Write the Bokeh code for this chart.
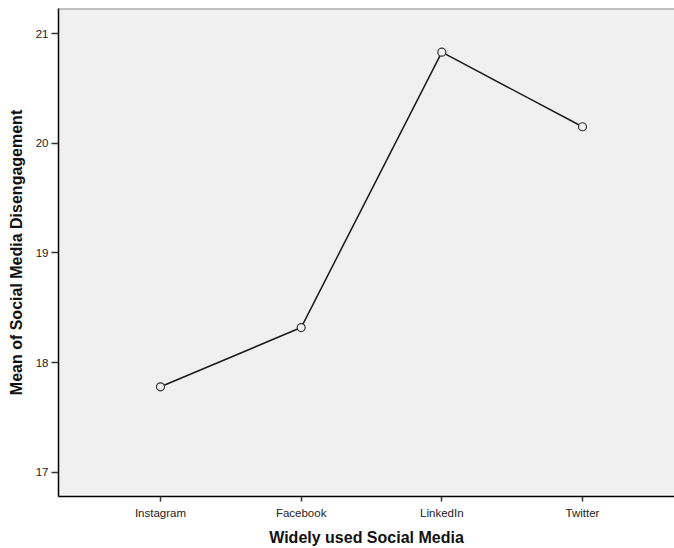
from bokeh.plotting import figure
from bokeh.models import FixedTicker, Range1d, ColumnDataSource, Span
from bokeh.embed import file_html
from bokeh.resources import INLINE

platforms = ["Instagram", "Facebook", "LinkedIn", "Twitter"]
means = [17.78, 18.32, 20.83, 20.15]
y_ticks = [17, 18, 19, 20, 21]

xs = list(range(1, len(platforms) + 1))
src = ColumnDataSource(dict(x=xs, y=means))

y_top = 21.228
p = figure(width=674, height=548, output_backend="svg", toolbar_location=None,
           x_range=Range1d(0.275, 4.654), y_range=Range1d(16.78, y_top),
           min_border_left=58, min_border_right=0, min_border_top=8, min_border_bottom=52)

p.background_fill_color = "#F0F0F0"
p.border_fill_color = "white"
p.outline_line_color = None
p.xgrid.visible = False
p.ygrid.visible = False

p.add_layout(Span(location=y_top, dimension="width", line_color="#888888", line_width=2))

p.line("x", "y", source=src, line_color="#1a1a1a", line_width=1.5)
p.scatter("x", "y", source=src, marker="circle", size=8, fill_color="#F0F0F0",
          line_color="#333333", line_width=1.2)

p.xaxis.ticker = FixedTicker(ticks=xs)
p.xaxis.major_label_overrides = {i: n for i, n in zip(xs, platforms)}
p.yaxis.ticker = FixedTicker(ticks=y_ticks)

for ax in (p.xaxis[0], p.yaxis[0]):
    ax.axis_line_color = "black"
    ax.axis_line_width = 1.5
    ax.major_tick_line_color = "#333333"
    ax.major_tick_line_width = 1.5
    ax.minor_tick_line_color = None
    ax.major_tick_in = 0
    ax.major_label_text_font = "Liberation Sans"
    ax.major_label_text_font_size = "11.5px"
    ax.major_label_text_color = "#222222"
    ax.axis_label_text_font = "Liberation Sans"
    ax.axis_label_text_font_style = "bold"
    ax.axis_label_text_font_size = "16px"
    ax.axis_label_text_color = "#111111"

p.xaxis.major_tick_out = 5
p.yaxis.major_tick_out = 7
p.xaxis.major_label_standoff = 5
p.yaxis.major_label_standoff = 3
p.xaxis.axis_label = "Widely used Social Media"
p.yaxis.axis_label = "Mean of Social Media Disengagement"
p.xaxis.axis_label_standoff = 7
p.yaxis.axis_label_standoff = 8

open("out.html", "w").write(file_html(p, INLINE))
